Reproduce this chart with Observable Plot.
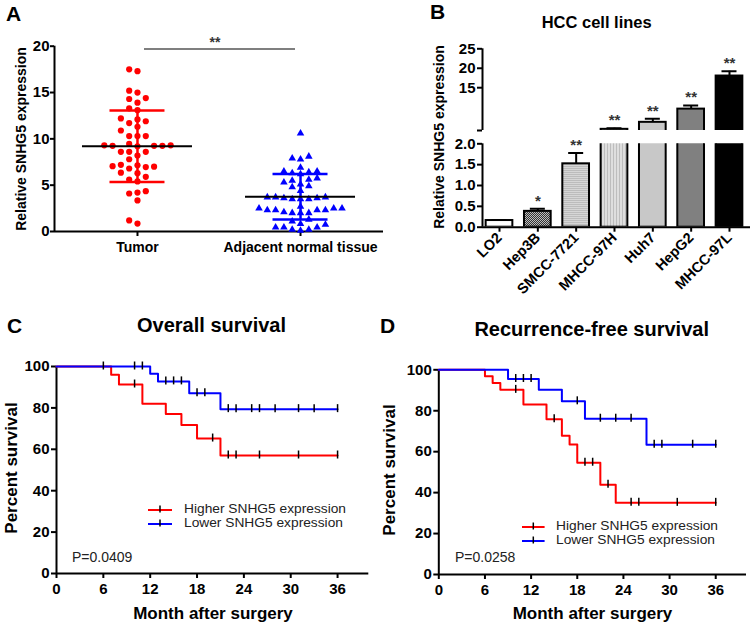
<!DOCTYPE html>
<html><head><meta charset="utf-8">
<script src="https://cdn.jsdelivr.net/npm/d3@7"></script>
<script src="https://cdn.jsdelivr.net/npm/@observablehq/plot@0.6"></script>
<style>
body{margin:0;background:#fff;}
#fig{position:relative;width:750px;height:623px;overflow:hidden;background:#fff;font-family:"Liberation Sans",Arial,Helvetica,sans-serif;color:#000;}
#fig svg{position:absolute;}
</style></head><body>
<svg width="0" height="0" style="position:absolute">
<defs>
<pattern id="pHep3B" width="2" height="2" patternUnits="userSpaceOnUse"><rect width="2" height="2" fill="#bdbdbd"/><rect width="1" height="1" fill="#333"/><rect x="1" y="1" width="1" height="1" fill="#333"/></pattern>
<pattern id="pSMCC" width="2" height="2" patternUnits="userSpaceOnUse"><rect width="2" height="2" fill="#d6d6d6"/><rect width="2" height="1" fill="#bcbcbc"/></pattern>
<pattern id="p97H" width="3" height="3" patternUnits="userSpaceOnUse"><rect width="3" height="3" fill="#dedede"/><rect width="1" height="3" fill="#bdbdbd"/></pattern>
</defs></svg>
<div id="fig"></div>
<script>
// ---------------- DATA ----------------
// Panel A
const groups = ["Tumor", "Adjacent normal tissue"];
const tumorValues = [17.3, 17.5, 15.2, 15.0, 14.4, 14.3, 13.9, 13.1, 13.3, 12.2, 11.9, 11.7, 12.1, 11.3, 10.9, 10.3, 10.3, 10.3,
  9.45, 9.3, 9.25, 9.25, 9.25, 9.2, 9.3, 8.6, 8.2, 8.6, 8.6, 7.8, 7.15, 7.05, 6.95, 7.0, 7.2, 6.8, 6.35, 5.9, 6.3, 5.4, 5.6,
  4.1, 4.35, 4.2, 3.35, 0.85, 1.2];
const normalValues = [10.6, 7.9, 7.8, 8.1, 6.9, 6.2, 6.4, 6.5, 6.5, 6.3, 5.6, 5.3, 5.5, 5.75, 4.8, 5.1, 4.9, 4.4,
  3.7, 3.7, 3.5, 3.5, 3.6, 3.5, 3.6, 3.7, 2.5, 2.3, 2.3, 2.5, 2.3, 2.3, 2.5, 2.7, 2.0, 2.0, 2.0, 2.1, 1.1, 1.3,
  0.83, 0.46, 0.2, 0.1, 0.2, 0.46, 0.46, 0.75];
const groupMean = [9.2, 3.75];
const groupSD = [3.87, 2.45];
const groupColor = ["#ff0000", "#0000ff"];
const aTicks = [0, 5, 10, 15, 20];
const sigA = {from: 0, to: 1, y: 19.7, label: "**"};

// Panel B
const cellLines = ["LO2", "Hep3B", "SMCC-7721", "MHCC-97H", "Huh7", "HepG2", "MHCC-97L"];
const cellMean = [0.16, 0.38, 1.52, 4.3, 6.1, 9.5, 18.0];
const cellErr = [0.01, 0.06, 0.26, 0.3, 0.9, 0.9, 1.2];
const cellSig = ["", "*", "**", "**", "**", "**", "**"];
const barFills = ["#ffffff", "url(#pHep3B)", "url(#pSMCC)", "url(#p97H)", "#c8c8c8", "#808080", "#000000"];
const lowerTicks = [0, 0.5, 1, 1.5, 2];
const upperTicks = [4, 15, 20, 25];

// Panels C, D
const monthTicks = [0, 6, 12, 18, 24, 30, 36];
const pctTicks = [0, 20, 40, 60, 80, 100];
const osHighTime = [0, 7, 8, 11, 14, 16, 18, 21, 36];
const osHighSurv = [100, 96, 91.3, 82, 77, 71.7, 65.2, 57, 57];
const osHighCens = [10, 20, 22, 23, 26, 31, 36];
const osLowTime = [0, 12, 13, 17, 21, 36];
const osLowSurv = [100, 96.5, 92.8, 87.1, 79.4, 79.4];
const osLowCens = [6, 10, 11, 14, 15, 16, 18, 19, 22, 23, 25, 26, 28, 31, 33, 36];
const rfsHighTime = [0, 6, 7, 8, 11, 14, 16, 17, 18, 21, 23, 36];
const rfsHighSurv = [100, 96.8, 93.6, 90.2, 83.1, 75.9, 67.8, 63.5, 54.6, 43.8, 35, 35];
const rfsHighCens = [10, 15, 19, 20, 22, 25, 26, 31, 36];
const rfsLowTime = [0, 9, 13, 16, 19, 27, 36];
const rfsLowSurv = [100, 95.5, 90.2, 84.6, 76.1, 63.4, 63.4];
const rfsLowCens = [10, 11, 12, 18, 21, 23, 25, 28, 29, 33, 36];
const legendNames = ["Higher SNHG5 expression", "Lower SNHG5 expression"];

// ---------------- HELPERS ----------------
const fig = document.getElementById("fig");
const FONT = '"Liberation Sans", Arial, Helvetica, sans-serif';
function place(el, left, top) { el.style.position = "absolute"; el.style.left = left + "px"; el.style.top = top + "px"; fig.appendChild(el); }
function thick(svg, xLabelSize) {
  const s = d3.select(svg);
  s.selectAll('g[aria-label$="tick"]').attr("stroke-width", 2);
  s.selectAll('g[aria-label="x-axis"] .tick line, g[aria-label="y-axis"] .tick line').attr("stroke-width", 2);
  if (xLabelSize) s.selectAll('g[aria-label="x-axis tick label"], g[aria-label="x-axis"] text').attr("font-size", xLabelSize);
}
function txt(s, x, y, o = {}) {
  const d = document.createElement("div");
  d.textContent = s;
  const size = o.size || 14, bold = o.bold !== false;
  const tx = o.anchor === "start" ? "0" : "-50%";
  const extra = (o.rot ? " rotate(-90deg)" : "") + (o.sx ? ` scale(${o.sx},1)` : "");
  d.style.cssText = `position:absolute;left:${x}px;top:${y}px;font-size:${size}px;font-weight:${bold ? "bold" : "normal"};line-height:${o.lh || 1};white-space:nowrap;color:${o.color || "#000"};transform-origin:${o.anchor === "start" ? "left center" : "center"};transform:translate(${tx},-50%)${extra};`;
  fig.appendChild(d);
}
function swatch(x1, x2, y, color) {
  const ns = "http://www.w3.org/2000/svg";
  const s = document.createElementNS(ns, "svg");
  const w = x2 - x1;
  s.setAttribute("width", w + 2); s.setAttribute("height", 14);
  s.style.left = (x1 - 1) + "px"; s.style.top = (y - 7) + "px"; s.style.overflow = "visible";
  s.innerHTML = `<line x1="1" x2="${w + 1}" y1="7" y2="7" stroke="${color}" stroke-width="2"/><line x1="${w / 2 + 1}" x2="${w / 2 + 1}" y1="2.5" y2="9.5" stroke="#000" stroke-width="1.5"/>`;
  fig.appendChild(s);
}
const baseStyle = {background: "none", fontFamily: FONT, fontSize: "15px", fontWeight: "bold", color: "#000", overflow: "visible"};

// ---------------- PANEL A ----------------
{
  const W = 390, H = 290, ml = 54, mr = 7, mt = 45.7, mb = 59;
  const xDom = [-0.509, 1.509];
  const xPx = (W - ml - mr) / (xDom[1] - xDom[0]);
  const yPx = (H - mt - mb) / 20;
  const colStep = 8.3 / xPx;
  function swarm(vals, minDy) {
    const order = [0, -1, 1, -2, 2, -3, 3, -4, 4, -5, 5, -6, 6];
    const idx = d3.range(vals.length).sort((a, b) => vals[a] - vals[b]);
    const cols = new Map(), out = [];
    for (const i of idx) {
      const y = vals[i] * yPx;
      for (const c of order) {
        const arr = cols.get(c) || [];
        if (arr.every(v => Math.abs(v - y) >= minDy)) { arr.push(y); cols.set(c, arr); out[i] = c; break; }
      }
    }
    return out;
  }
  const tc = swarm(tumorValues, 7.2), nc = swarm(normalValues, 6.2);
  const tumorPts = tumorValues.map((v, i) => ({x: 0 + tc[i] * colStep, v}));
  const normalPts = normalValues.map((v, i) => ({x: 1 + nc[i] * colStep, v}));
  const summ = groupMean.map((m, g) => ({g, m, lo: m - groupSD[g], hi: m + groupSD[g], c: groupColor[g]}));
  const capH = 27.5 / xPx, meanH = 55 / xPx;
  const svg = Plot.plot({
    width: W, height: H, marginLeft: ml, marginRight: mr, marginTop: mt, marginBottom: mb,
    style: baseStyle,
    x: {domain: xDom, ticks: [0, 1], tickFormat: i => groups[i], tickSize: 5, tickPadding: 6, label: null},
    y: {domain: [0, 20], ticks: aTicks, tickSize: 4, tickPadding: 1, label: null},
    marks: [
      Plot.ruleY([0], {stroke: "#000", strokeWidth: 2}),
      Plot.ruleX([xDom[0]], {stroke: "#000", strokeWidth: 2}),
      Plot.dot(tumorPts, {x: "x", y: "v", r: 3.1, fill: groupColor[0]}),
      Plot.dot(normalPts, {x: "x", y: "v", r: 2.8, symbol: "triangle", fill: groupColor[1]}),
      Plot.ruleX(summ, {x: "g", y1: "lo", y2: "hi", stroke: "c", strokeWidth: 2.5}),
      Plot.ruleY(summ, {y: "lo", x1: d => d.g - capH, x2: d => d.g + capH, stroke: "c", strokeWidth: 2.5}),
      Plot.ruleY(summ, {y: "hi", x1: d => d.g - capH, x2: d => d.g + capH, stroke: "c", strokeWidth: 2.5}),
      Plot.ruleY(summ, {y: "m", x1: d => d.g - meanH, x2: d => d.g + meanH, stroke: "#000", strokeWidth: 2}),
      Plot.ruleY([sigA], {y: "y", x1: d => d.from + 7 / xPx, x2: d => d.to - 5 / xPx, stroke: "#555", strokeWidth: 1.5}),
      Plot.text([sigA], {x: d => (d.from + d.to) / 2 - 4 / xPx, y: "y", text: "label", dy: -6, lineAnchor: "middle", fontSize: 14, fill: "#333"})
    ],
    color: {type: "identity"}
  });
  thick(svg, 14);
  place(svg, 0, 0);
  txt("A", 13.5, 12.5, {size: 21});
  txt("Relative SNHG5 expression", 21, 139, {size: 14, rot: true});
}

// ---------------- PANEL B ----------------
{
  const cells = cellLines.map((c, i) => ({i, c, m: cellMean[i], e: cellMean[i] + cellErr[i], s: cellSig[i], f: barFills[i]}));
  const W = 365, ml = 97, mr = 0;
  const xDom = [-0.4435, 6.548];
  const xPx = (W - ml - mr) / (xDom[1] - xDom[0]);
  const bh = 13.35 / xPx, ch = 7.5 / xPx;
  function marks(domTop, section) {
    return [
      Plot.rect(cells, {x1: d => d.i - bh, x2: d => d.i + bh, y1: 0, y2: "m", fill: "f", stroke: "#000", strokeWidth: 2, clip: true}),
      Plot.ruleX(cells, {x: "i", y1: "m", y2: "e", stroke: "#000", strokeWidth: 2, clip: true}),
      Plot.ruleY(cells, {y: "e", x1: d => d.i - ch, x2: d => d.i + ch, stroke: "#000", strokeWidth: 2, clip: true}),
      Plot.text(cells.filter(d => section === "upper" ? d.e > domTop : d.e <= domTop),
        {x: "i", y: "e", text: "s", dy: -8, lineAnchor: "middle", fontSize: 15, fill: "#333"})
    ];
  }
  // upper segment
  const up = Plot.plot({
    width: W, height: 132, marginLeft: ml, marginRight: mr, marginTop: 48.3, marginBottom: 2,
    style: baseStyle, color: {type: "identity"},
    x: {domain: xDom, axis: null},
    y: {domain: [4, 25], ticks: upperTicks, tickFormat: d => d === 4 ? "" : d, tickSize: 5, tickPadding: 2, label: null},
    marks: [Plot.ruleX([xDom[0]], {stroke: "#000", strokeWidth: 2}), ...marks(2, "upper")]
  });
  thick(up);
  place(up, 385, 0);
  // lower segment
  const lo = Plot.plot({
    width: W, height: 170, marginLeft: ml, marginRight: mr, marginTop: 13.3, marginBottom: 73.3,
    style: baseStyle, color: {type: "identity"},
    x: {domain: xDom, ticks: d3.range(cellLines.length), tickFormat: i => cellLines[i], tickRotate: -45, tickSize: 5, tickPadding: 3, label: null},
    y: {domain: [0, 2], ticks: lowerTicks, tickFormat: d3.format(".1f"), tickSize: 5, tickPadding: 2, label: null},
    marks: [Plot.ruleX([xDom[0]], {stroke: "#000", strokeWidth: 2}), Plot.ruleY([0], {stroke: "#000", strokeWidth: 2}), ...marks(2, "lower")]
  });
  thick(lo, 14.5);
  place(lo, 385, 130);
  txt("B", 437.5, 10.5, {size: 21});
  txt("HCC cell lines", 596.7, 21.7, {size: 16.5});
  txt("Relative SNHG5 expression", 438.5, 137, {size: 14, rot: true});
}

// ---------------- PANELS C & D ----------------
const censorTick = {draw(ctx) { ctx.moveTo(0, -5); ctx.lineTo(0, 3); }};
function stepAt(T, S, t) { return S[Math.max(0, d3.bisectRight(T, t) - 1)]; }
function survPlot(cfg) {
  const hi = cfg.hiT.map((t, i) => ({t, s: cfg.hiS[i]}));
  const lw = cfg.loT.map((t, i) => ({t, s: cfg.loS[i]}));
  const hiC = cfg.hiC.map(t => ({t, s: stepAt(cfg.hiT, cfg.hiS, t)}));
  const loC = cfg.loC.map(t => ({t, s: stepAt(cfg.loT, cfg.loS, t)}));
  const svg = Plot.plot({
    width: cfg.w, height: cfg.h, marginLeft: cfg.ml, marginRight: cfg.mr, marginTop: cfg.mt, marginBottom: cfg.mb,
    style: baseStyle,
    x: {domain: [0, 40], ticks: monthTicks, tickSize: 5, tickPadding: 5, label: null},
    y: {domain: [0, 100], ticks: pctTicks, tickSize: 5, tickPadding: 2, label: null},
    marks: [
      Plot.ruleY([0], {stroke: "#000", strokeWidth: 2}),
      Plot.ruleX([0], {stroke: "#000", strokeWidth: 2}),
      Plot.line(hi, {x: "t", y: "s", curve: "step-after", stroke: "#ff0000", strokeWidth: 2}),
      Plot.line(lw, {x: "t", y: "s", curve: "step-after", stroke: "#0000ff", strokeWidth: 2}),
      Plot.dot(hiC, {x: "t", y: "s", symbol: censorTick, stroke: "#000", fill: "none", strokeWidth: 1.5}),
      Plot.dot(loC, {x: "t", y: "s", symbol: censorTick, stroke: "#000", fill: "none", strokeWidth: 1.5})
    ]
  });
  thick(svg);
  return svg;
}
{
  const legOpts = {size: 12.5, bold: false, anchor: "start", color: "#222", lh: 0.9, sx: 1.1};
  const c = survPlot({w: 380, h: 323, ml: 56, mr: 11.7, mt: 66, mb: 50,
    hiT: osHighTime, hiS: osHighSurv, hiC: osHighCens, loT: osLowTime, loS: osLowSurv, loC: osLowCens});
  place(c, 0, 300);
  txt("C", 14.5, 325, {size: 21});
  txt("Overall survival", 211.5, 325, {size: 20});
  txt("Percent survival", 10.5, 468, {size: 17, rot: true});
  txt("Month after surgery", 213, 613, {size: 17});
  swatch(148, 172, 509.8, "#ff0000");
  swatch(148, 172, 524.2, "#0000ff");
  txt(legendNames[0], 184, 509.8, legOpts);
  txt(legendNames[1], 184, 524.2, legOpts);
  txt("P=0.0409", 72, 557, {size: 14, bold: false, anchor: "start", color: "#222"});

  const d = survPlot({w: 370, h: 323, ml: 58.3, mr: 4, mt: 69.3, mb: 49,
    hiT: rfsHighTime, hiS: rfsHighSurv, hiC: rfsHighCens, loT: rfsLowTime, loS: rfsLowSurv, loC: rfsLowCens});
  place(d, 380, 300);
  txt("D", 387.5, 324.5, {size: 21});
  txt("Recurrence-free survival", 591.7, 329, {size: 20});
  txt("Percent survival", 389, 470, {size: 17, rot: true});
  txt("Month after surgery", 592.5, 613, {size: 17});
  swatch(521.7, 544.3, 526.9, "#ff0000");
  swatch(521.7, 544.3, 541.4, "#0000ff");
  txt(legendNames[0], 556, 526.9, legOpts);
  txt(legendNames[1], 556, 541.4, legOpts);
  txt("P=0.0258", 455, 557.3, {size: 14, bold: false, anchor: "start", color: "#222"});
}
</script></body></html>
